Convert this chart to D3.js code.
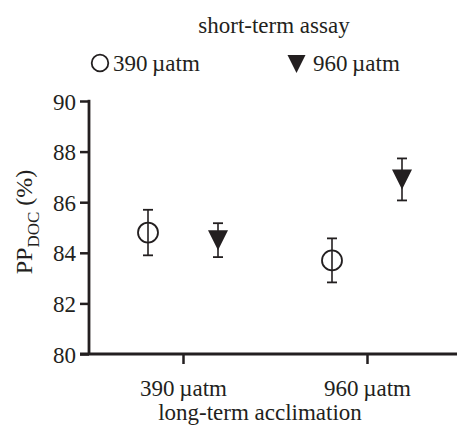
<!DOCTYPE html>
<html>
<head>
<meta charset="utf-8">
<script src="https://cdn.jsdelivr.net/npm/d3@7"></script>
<style>
  body { margin: 0; background: #fff; }
  svg text { font-family: "Liberation Serif", "DejaVu Serif", serif; fill: #231f20; }
</style>
</head>
<body>
<svg id="chart" width="457" height="425"></svg>
<script>
// long-term acclimation groups
const groups = ["390\u2009µatm", "960\u2009µatm"];
// short-term assay series
const series = ["390\u2009µatm", "960\u2009µatm"];
// mean PP_DOC (%) per group, for each series
const means390 = [84.8, 83.7];
const means960 = [84.5, 86.9];
// error (+/-)
const err390 = [0.9, 0.87];
const err960 = [0.67, 0.83];
const yTicks = [80, 82, 84, 86, 88, 90];

const ink = "#231f20";
const svg = d3.select("#chart");

const y = d3.scaleLinear().domain([80, 90]).range([354, 101]);
const x = d3.scalePoint().domain(groups).range([183, 367]);
const offset = d3.scalePoint().domain(series).range([-35, 35]);

// y axis
const yAxis = svg.append("g")
  .attr("transform", "translate(89,0)")
  .call(d3.axisLeft(y).tickValues(yTicks).tickSize(9).tickSizeOuter(0).tickPadding(4));
yAxis.select(".domain").remove();
yAxis.selectAll("line").attr("stroke", ink).attr("stroke-width", 2.5);
yAxis.selectAll("text").attr("font-size", 23).attr("dy", "0.35em")
  .attr("font-family", "Liberation Serif").attr("fill", ink);
svg.append("line")
  .attr("x1", 89).attr("x2", 89).attr("y1", y(90) - 1.2).attr("y2", y(80))
  .attr("stroke", ink).attr("stroke-width", 2.8);

// x axis
const xAxis = svg.append("g")
  .attr("transform", `translate(0,${y(80)})`)
  .call(d3.axisBottom(x).tickSize(10).tickSizeOuter(0).tickPadding(16));
xAxis.select(".domain").remove();
xAxis.selectAll("line").attr("stroke", ink).attr("stroke-width", 2.5);
xAxis.selectAll("text").attr("font-size", 23)
  .attr("font-family", "Liberation Serif").attr("fill", ink);
svg.append("line")
  .attr("x1", 80).attr("x2", 457).attr("y1", y(80)).attr("y2", y(80))
  .attr("stroke", ink).attr("stroke-width", 2.8);

// axis titles
svg.append("text")
  .attr("x", 260).attr("y", 420)
  .attr("text-anchor", "middle").attr("font-size", 23)
  .text("long-term acclimation");

const yt = svg.append("text")
  .attr("transform", "translate(32,222) rotate(-90)")
  .attr("text-anchor", "middle").attr("font-size", 24);
yt.append("tspan").text("PP");
yt.append("tspan").attr("font-size", 17).attr("dy", 7).text("DOC");
yt.append("tspan").attr("dy", -7).text(" (%)");

// points
const pts = [];
groups.forEach((g, i) => {
  pts.push({ g, s: series[0], m: means390[i], e: err390[i] });
  pts.push({ g, s: series[1], m: means960[i], e: err960[i] });
});

const pt = svg.selectAll(".pt").data(pts).enter().append("g")
  .attr("class", "pt")
  .attr("transform", d => `translate(${x(d.g) + offset(d.s)},0)`);

pt.append("line")
  .attr("y1", d => y(d.m + d.e)).attr("y2", d => y(d.m - d.e))
  .attr("stroke", ink).attr("stroke-width", 1.6);
pt.append("line")
  .attr("x1", -5).attr("x2", 5)
  .attr("y1", d => y(d.m + d.e)).attr("y2", d => y(d.m + d.e))
  .attr("stroke", ink).attr("stroke-width", 1.8);
pt.append("line")
  .attr("x1", -5).attr("x2", 5)
  .attr("y1", d => y(d.m - d.e)).attr("y2", d => y(d.m - d.e))
  .attr("stroke", ink).attr("stroke-width", 1.8);

function tri(cx, cy, w, h) {
  return `M${cx - w / 2},${cy - h / 2}L${cx + w / 2},${cy - h / 2}L${cx},${cy + h / 2}Z`;
}

pt.filter(d => d.s === series[0]).append("circle")
  .attr("cy", d => y(d.m)).attr("r", 10)
  .attr("fill", "none").attr("stroke", ink).attr("stroke-width", 1.8);
pt.filter(d => d.s === series[1]).append("path")
  .attr("d", d => tri(0, y(d.m), 20, 20))
  .attr("fill", ink);

// legend
svg.append("text")
  .attr("x", 274).attr("y", 33)
  .attr("text-anchor", "middle").attr("font-size", 23)
  .text("short-term assay");

svg.append("circle")
  .attr("cx", 100).attr("cy", 63).attr("r", 8.3)
  .attr("fill", "none").attr("stroke", ink).attr("stroke-width", 1.8);
svg.append("text").attr("x", 113).attr("y", 71).attr("font-size", 23).text(series[0]);

svg.append("path").attr("d", tri(296.5, 64, 18, 18)).attr("fill", ink);
svg.append("text").attr("x", 313).attr("y", 71).attr("font-size", 23).text(series[1]);
</script>
</body>
</html>
